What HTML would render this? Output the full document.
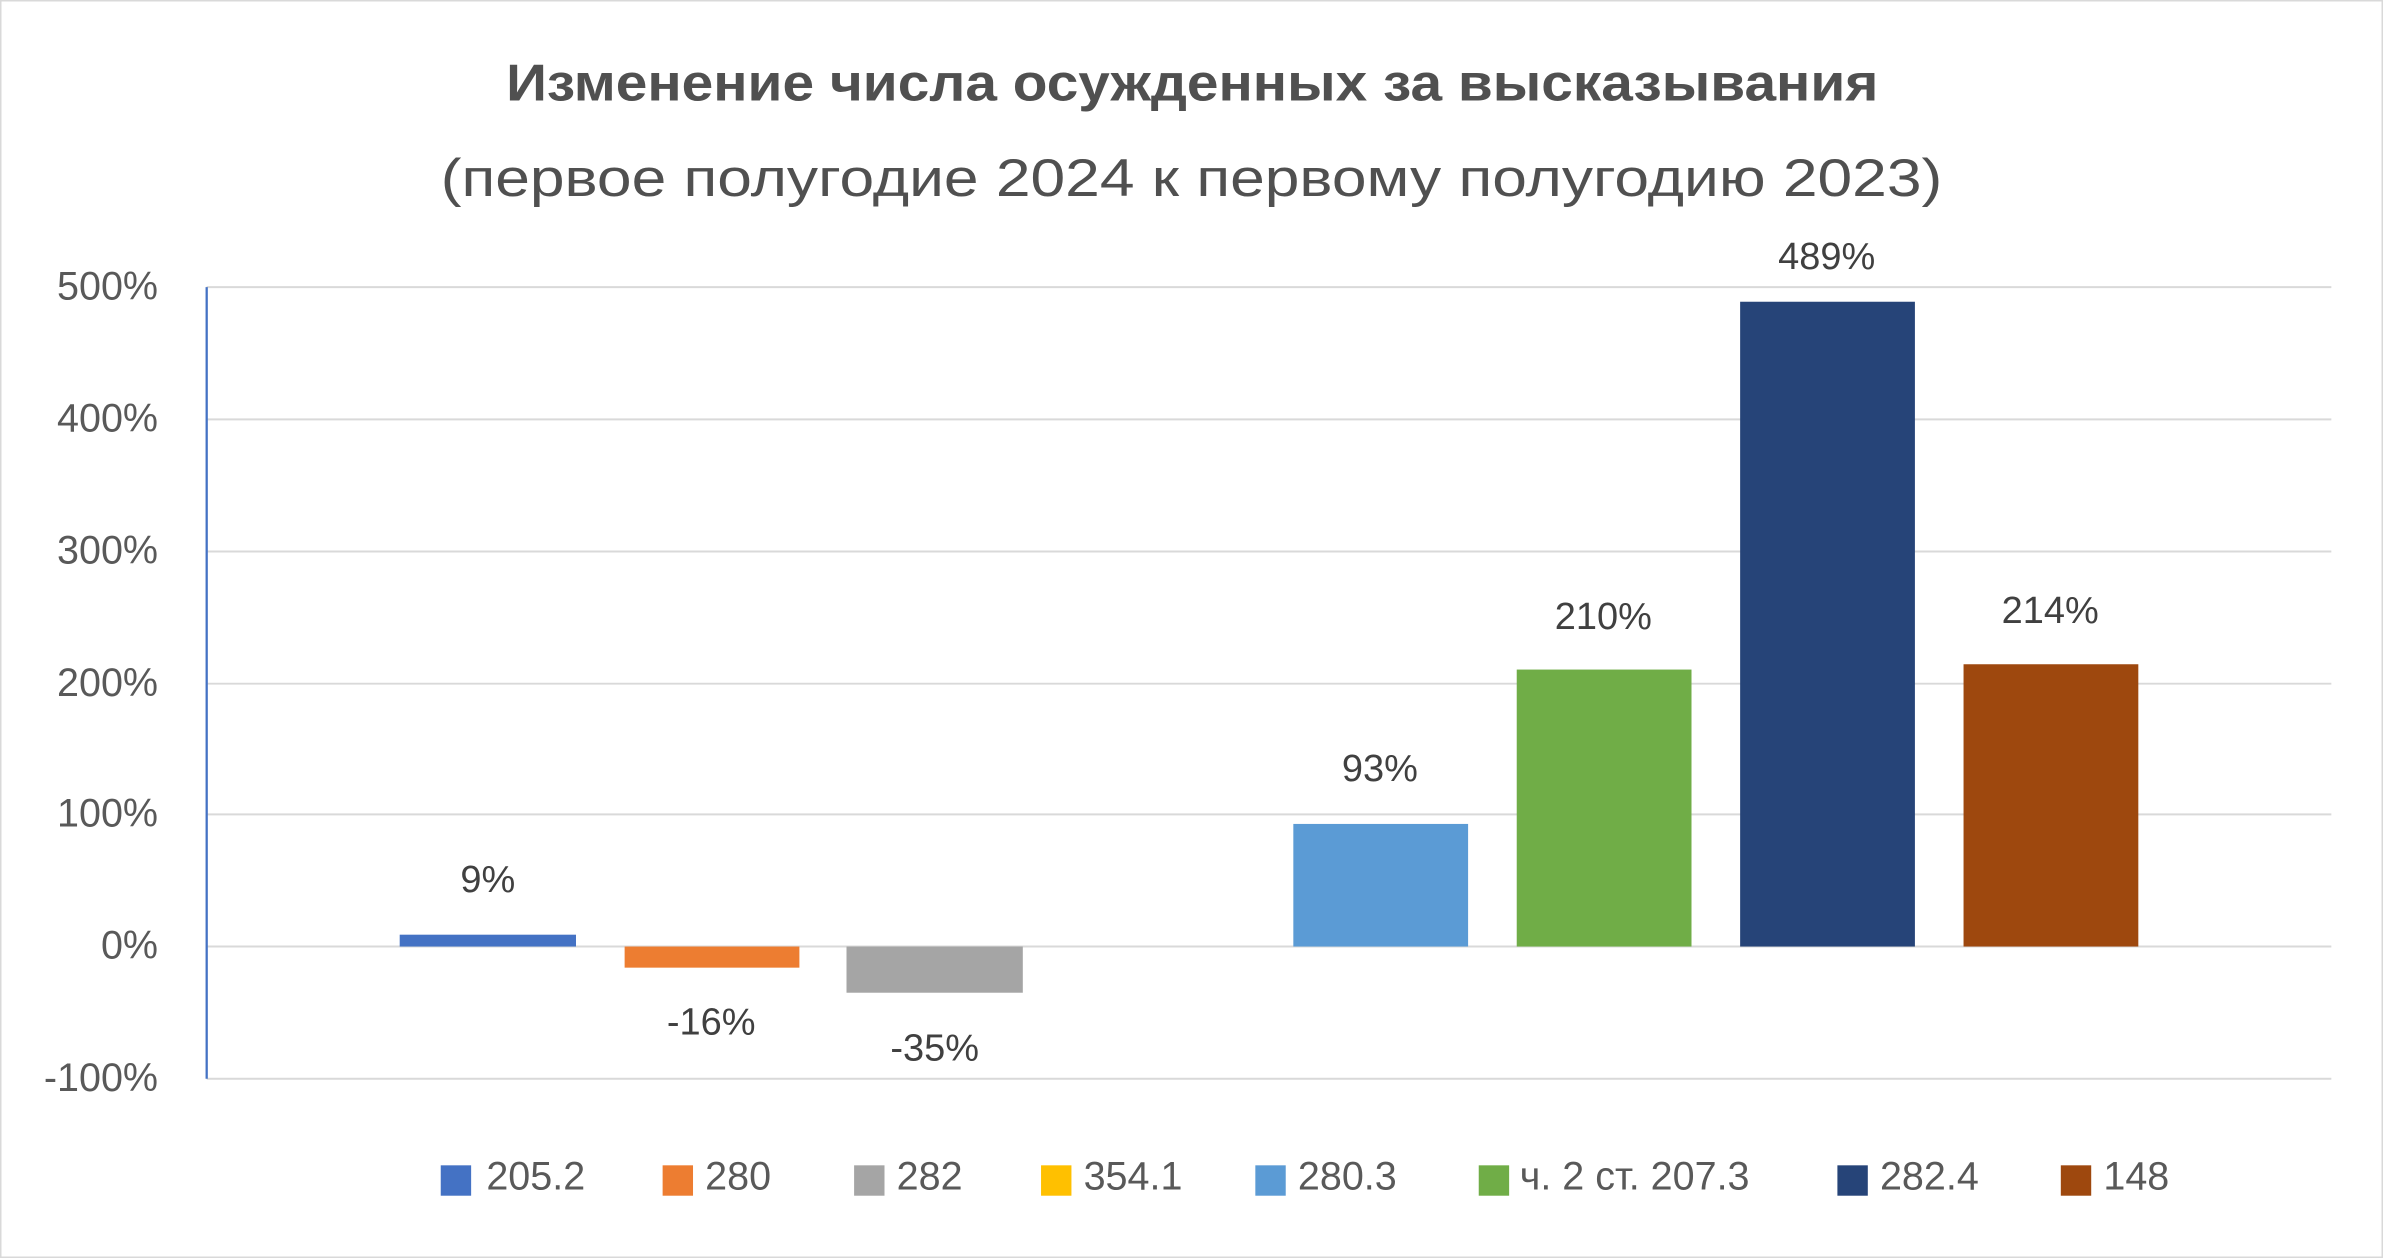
<!DOCTYPE html>
<html><head><meta charset="utf-8"><style>html,body{margin:0;padding:0;background:#fff}svg{display:block}</style></head>
<body>
<svg width="2383" height="1258" viewBox="0 0 1568 828" preserveAspectRatio="none" xmlns="http://www.w3.org/2000/svg" font-family="Liberation Sans, DejaVu Sans, sans-serif">
<rect x="0.5" y="0.5" width="1567" height="827" fill="#fff" stroke="#d9d9d9"/>
<text x="333" y="66" textLength="903" lengthAdjust="spacingAndGlyphs" font-size="34" font-weight="bold" fill="#505050">Изменение числа осужденных за высказывания</text>
<text x="290" y="129" textLength="988" lengthAdjust="spacingAndGlyphs" font-size="35" fill="#505050">(первое полугодие 2024 к первому полугодию 2023)</text>
<g stroke="#d9d9d9" stroke-width="1.3">
<line x1="136" x2="1534" y1="189" y2="189"/><line x1="136" x2="1534" y1="276" y2="276"/>
<line x1="136" x2="1534" y1="363" y2="363"/><line x1="136" x2="1534" y1="450" y2="450"/>
<line x1="136" x2="1534" y1="536" y2="536"/><line x1="136" x2="1534" y1="623" y2="623"/>
<line x1="136" x2="1534" y1="710" y2="710"/>
</g>
<line x1="136" x2="136" y1="189" y2="710" stroke="#4472C4" stroke-width="1.5"/>
<g font-size="26" fill="#595959" text-anchor="end">
<text x="104" y="197">500%</text><text x="104" y="284">400%</text><text x="104" y="371">300%</text>
<text x="104" y="458">200%</text><text x="104" y="544">100%</text><text x="104" y="631">0%</text><text x="104" y="718">-100%</text>
</g>
<rect x="263" y="615.2" width="116" height="7.8" fill="#4472C4"/>
<rect x="411" y="623" width="115" height="13.9" fill="#ED7D31"/>
<rect x="557" y="623" width="116" height="30.4" fill="#A5A5A5"/>
<rect x="851" y="542.3" width="115" height="80.7" fill="#5B9BD5"/>
<rect x="998" y="440.7" width="115" height="182.3" fill="#70AD47"/>
<rect x="1145" y="198.6" width="115" height="424.4" fill="#264478"/>
<rect x="1292" y="437.2" width="115" height="185.8" fill="#9E480E"/>
<g font-size="25" fill="#404040" text-anchor="middle">
<text x="321" y="587">9%</text><text x="468" y="681">-16%</text><text x="615" y="698">-35%</text>
<text x="908" y="514">93%</text><text x="1055" y="414">210%</text><text x="1202" y="177">489%</text><text x="1349" y="410">214%</text>
</g>
<g font-size="26" fill="#595959">
<rect x="290" y="767" width="20" height="20" fill="#4472C4"/><text x="320" y="783">205.2</text>
<rect x="436" y="767" width="20" height="20" fill="#ED7D31"/><text x="464" y="783">280</text>
<rect x="562" y="767" width="20" height="20" fill="#A5A5A5"/><text x="590" y="783">282</text>
<rect x="685" y="767" width="20" height="20" fill="#FFC000"/><text x="713" y="783">354.1</text>
<rect x="826" y="767" width="20" height="20" fill="#5B9BD5"/><text x="854" y="783">280.3</text>
<rect x="973" y="767" width="20" height="20" fill="#70AD47"/><text x="1000" y="783">ч. 2 ст. 207.3</text>
<rect x="1209" y="767" width="20" height="20" fill="#264478"/><text x="1237" y="783">282.4</text>
<rect x="1356" y="767" width="20" height="20" fill="#9E480E"/><text x="1384" y="783">148</text>
</g>
</svg>
</body></html>
